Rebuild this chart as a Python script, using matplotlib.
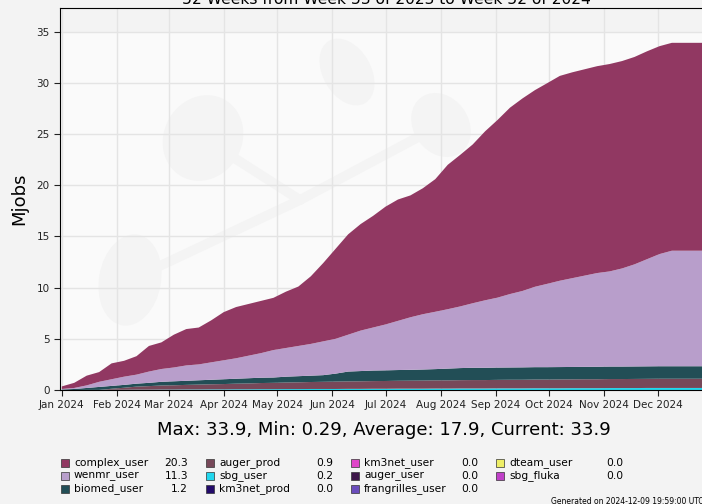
import numpy as np
import pandas as pd
import matplotlib
matplotlib.use("Agg")
import matplotlib.pyplot as plt
import matplotlib.dates as mdates
from matplotlib.patches import Rectangle, Ellipse
from matplotlib.transforms import Affine2D

# weekly cumulative values (Mjobs), week starting 2024-01-01
weeks = pd.date_range("2024-01-01", periods=53, freq="7D")

sbg_user = [0.0, 0.0, 0.01, 0.01, 0.02, 0.02, 0.03, 0.03, 0.04, 0.04,
            0.05, 0.05, 0.06, 0.06, 0.07, 0.07, 0.08, 0.08, 0.09, 0.09,
            0.1, 0.1, 0.1, 0.11, 0.11, 0.12, 0.12, 0.13, 0.13, 0.13,
            0.14, 0.14, 0.15, 0.15, 0.15, 0.16, 0.16, 0.16, 0.17, 0.17,
            0.17, 0.18, 0.18, 0.18, 0.19, 0.19, 0.19, 0.2, 0.2, 0.2,
            0.2, 0.2, 0.2]
auger_prod = [0.0, 0.0, 0.0, 0.0, 0.1, 0.2, 0.3, 0.35, 0.4, 0.42,
              0.45, 0.48, 0.5, 0.52, 0.55, 0.57, 0.6, 0.62, 0.64, 0.66,
              0.68, 0.7, 0.72, 0.73, 0.74, 0.75, 0.76, 0.77, 0.78, 0.79,
              0.8, 0.8, 0.81, 0.82, 0.82, 0.83, 0.84, 0.84, 0.85, 0.85,
              0.86, 0.86, 0.87, 0.87, 0.88, 0.88, 0.89, 0.89, 0.9, 0.9,
              0.9, 0.9, 0.9]
biomed_user = [0.05, 0.1, 0.19, 0.29, 0.28, 0.28, 0.29, 0.32, 0.36, 0.39,
               0.4, 0.42, 0.44, 0.47, 0.48, 0.51, 0.52, 0.52, 0.57, 0.6,
               0.62, 0.65, 0.78, 0.96, 1.0, 1.03, 1.04, 1.05, 1.06, 1.08,
               1.1, 1.15, 1.18, 1.2, 1.2, 1.2, 1.2, 1.21, 1.21, 1.21,
               1.21, 1.21, 1.21, 1.22, 1.22, 1.22, 1.22, 1.22, 1.22, 1.22,
               1.22, 1.22, 1.22]
wenmr_user = [0.05, 0.1, 0.25, 0.5, 0.65, 0.8, 0.88, 1.1, 1.25, 1.35,
              1.5, 1.55, 1.7, 1.85, 2.0, 2.2, 2.4, 2.68, 2.8, 2.95,
              3.1, 3.3, 3.4, 3.6, 3.95, 4.2, 4.48, 4.8, 5.13, 5.4,
              5.6, 5.8, 6.02, 6.3, 6.59, 6.83, 7.17, 7.46, 7.85, 8.14,
              8.43, 8.67, 8.91, 9.15, 9.29, 9.58, 9.97, 10.46, 10.95, 11.28,
              11.28, 11.28, 11.28]
complex_user = [0.25, 0.5, 0.95, 0.95, 1.55, 1.55, 1.8, 2.5, 2.6, 3.2,
                3.55, 3.6, 4.1, 4.7, 5.0, 5.05, 5.1, 5.1, 5.5, 5.8,
                6.6, 7.65, 8.8, 9.8, 10.4, 10.9, 11.5, 11.85, 11.9, 12.3,
                12.95, 14.1, 14.8, 15.5, 16.5, 17.35, 18.2, 18.8, 19.2, 19.6,
                20.0, 20.1, 20.15, 20.2, 20.25, 20.25, 20.25, 20.3, 20.3, 20.3,
                20.3, 20.3, 20.3]

legend_names = ["complex_user", "wenmr_user", "biomed_user",
                "auger_prod", "sbg_user", "km3net_prod",
                "km3net_user", "auger_user", "frangrilles_user",
                "dteam_user", "sbg_fluka"]
legend_values = ["20.3", "11.3", "1.2", "0.9", "0.2", "0.0",
                 "0.0", "0.0", "0.0", "0.0", "0.0"]
legend_colors = ["#913862", "#b89ecb", "#224e56", "#774859", "#22d7ee",
                 "#220a6a", "#e044c8", "#3d1649", "#6a4cbc", "#eeee66",
                 "#c040c8"]

W, H = 702, 504
fig = plt.figure(figsize=(7.02, 5.04), dpi=100, facecolor="#f3f3f3")
ax = fig.add_axes([60 / W, 114 / H, 651 / W, 382 / H])
ax.set_facecolor("#fafafa")

# faint watermark logo behind the grid (pixel coords from top-left)
pix = Affine2D().scale(1, -1).translate(0, H)
wm = "#f4f4f4"
ax.add_patch(Rectangle((60, 8), 660, 24, transform=pix,
                       facecolor="#f3f3f3", edgecolor="none", zorder=0.1))
for (cx, cy, w, h, ang) in [(203, 138, 78, 88, 30), (347, 72, 48, 72, -30),
                            (441, 125, 55, 68, -35), (130, 280, 62, 92, 10)]:
    ax.add_patch(Ellipse((cx, cy), w, h, angle=ang, transform=pix,
                         facecolor=wm, edgecolor="none", zorder=0.2))
for (x1, y1) in [(203, 138), (441, 125), (130, 280)]:
    ax.plot([x1, 300], [y1, 200], color=wm, linewidth=7, transform=pix,
            solid_capstyle="round", zorder=0.2)

ax.stackplot(weeks, sbg_user, auger_prod, biomed_user, wenmr_user, complex_user,
             colors=["#22d7ee", "#774859", "#224e56", "#b89ecb", "#913862"],
             linewidth=0, zorder=2)

ax.set_xlim(pd.Timestamp("2023-12-31"), pd.Timestamp("2024-12-31"))
ax.set_ylim(0, 37.3)
ax.xaxis.set_major_locator(mdates.MonthLocator())
ax.xaxis.set_major_formatter(mdates.DateFormatter("%b %Y"))
ax.set_yticks([0, 5, 10, 15, 20, 25, 30, 35])
ax.tick_params(labelsize=7.5, colors="#222222", length=4)
ax.grid(True, color="#e4e4e4", linewidth=1)
ax.set_axisbelow(True)
ax.spines["right"].set_visible(False)
ax.set_ylabel("Mjobs", fontsize=13, labelpad=6)

fig.text(386 / W, 1.0, "52 Weeks from Week 53 of 2023 to Week 52 of 2024",
         ha="center", va="center", fontsize=11.2)
fig.text(384 / W, 1 - 430 / H,
         "Max: 33.9, Min: 0.29, Average: 17.9, Current: 33.9",
         ha="center", va="center", fontsize=13)

# legend table
col_x = [61, 206, 351, 496]
row_y = [463, 476, 489]
for i, name in enumerate(legend_names):
    c, r = divmod(i, 3)
    x0 = col_x[c]
    y0 = row_y[r]
    fig.add_artist(Rectangle((x0 / W, 1 - (y0 + 4) / H), 8 / W, 8 / H,
                             transform=fig.transFigure, facecolor=legend_colors[i],
                             edgecolor="#333333", linewidth=0.5))
    fig.text((x0 + 13) / W, 1 - y0 / H, name, ha="left", va="center", fontsize=7.7)
    fig.text((x0 + 127) / W, 1 - y0 / H, legend_values[i], ha="right",
             va="center", fontsize=7.7)

fig.text(551 / W, 1 - 501 / H, "Generated on 2024-12-09 19:59:00 UTC",
         ha="left", va="center", fontsize=5.5)

fig.savefig("out.png", dpi=100, facecolor=fig.get_facecolor())
